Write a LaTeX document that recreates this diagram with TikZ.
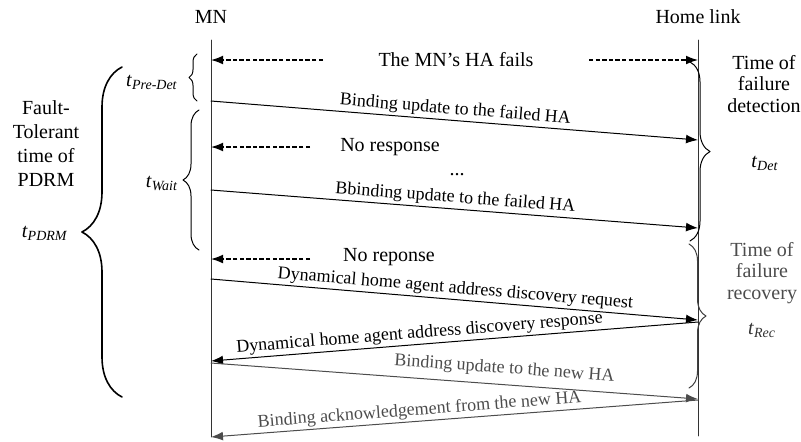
\documentclass[tikz,border=0pt]{standalone}
\usepackage{fontspec}
\setmainfont{Liberation Serif}
\usepackage{tikz}
\usetikzlibrary{positioning,arrows.meta,decorations.pathreplacing}

\newcommand{\tsub}[1]{\textit{t}\textsubscript{\textit{#1}}}

\begin{document}
\begin{tikzpicture}[x=0.5pt,y=-0.5pt, line cap=round, line join=round,
    msg/.style={-{Latex[length=6pt,width=4.4pt]}, line width=0.5pt},
    fail/.style={msg, line width=0.6pt, line cap=butt, dash pattern=on 2.2pt off 1.1pt},
    lbl/.style={font=\fontsize{9}{10}\selectfont, sloped, above, inner sep=1pt},
    brc/.style={decorate, decoration={brace, amplitude=#1}, line width=0.5pt},
    brc/.default=5pt,
    side/.style={align=center, font=\fontsize{10}{10.8}\selectfont}]
				% ===== khung =====
				\useasboundingbox (0,0) rectangle (801,441);
				
				% ===== hai truc doc =====
				\node (mn) at (211,17) {MN};
				\node (hl) at (698,17) {Home link};
				\coordinate (mnTop) at (211,40);
				\coordinate (mnBot) at (211,437);
				\coordinate (hlTop) at (698,40);
				\coordinate (hlBot) at (698,436);
				\draw[black!80] (mnTop) -- (mnBot);
				\draw[black!80] (hlTop) -- (hlBot);
				
				% ===== diem dau / cuoi cua cac thong diep =====
				\coordinate (mnA) at (211,101);  \coordinate (hlA) at (698,140);
				\coordinate (mnB) at (211,190);  \coordinate (hlB) at (698,228);
				\coordinate (mnC) at (211,279);  \coordinate (hlC) at (698,320);
				\coordinate (hlD) at (698,322);  \coordinate (mnD) at (211,361);
				\coordinate (mnE) at (211,363);  \coordinate (hlE) at (698,399);
				\coordinate (hlF) at (698,400);  \coordinate (mnF) at (211,437);
				
				% ===== mui ten dut (HA hong, khong tra loi) =====
				\node (fails) at (456,60) {The MN's HA fails};
				\coordinate (f0) at (323,60);  \coordinate (mn0) at (211,60);
				\coordinate (f1) at (589,60);  \coordinate (hl0) at (698,60);
				\draw[fail] (f0) -- (mn0);
				\draw[fail] (f1) -- (hl0);
				
				\node (nr1) at (390,147) {No response};
				\coordinate (n1) at (310,147);  \coordinate (mn1) at (211,147);
				\draw[fail] (n1) -- (mn1);
				
				\node (nr2) at (389,257) {No reponse};
				\coordinate (n2) at (310,259);  \coordinate (mn2) at (211,259);
				\draw[fail] (n2) -- (mn2);
				
				\node (dots) at (457,175) {...};
				
				% ===== cac thong diep =====
				\draw[msg] (mnA) -- node[lbl] (lA) {Binding update to the failed HA} (hlA);
				\draw[msg] (mnB) -- node[lbl] (lB) {Bbinding update to the failed HA} (hlB);
				\draw[msg] (mnC) -- node[lbl] (lC) {Dynamical home agent address discovery request} (hlC);
				\draw[msg] (hlD) -- node[lbl, pos=0.57] (lD) {Dynamical home agent address discovery response} (mnD);
				\draw[msg, black!70] (mnE) -- node[lbl, pos=0.6, above=2.5pt] (lE) {Binding update to the new HA} (hlE);
				\draw[msg, black!70] (hlF) -- node[lbl, pos=0.57] (lF) {Binding acknowledgement from the new HA} (mnF);
				
				% ===== ngoac ben trai =====
				\draw[brc=4pt] (197,101) -- (197,54);
				\node (tpre) at (152,82) {\tsub{Pre-Det}};
				
				\draw[brc=8pt] (199,250) -- (199,110);
				\node (twait) at (162,183) {\tsub{Wait}};
				
				\draw[brc=20pt, line width=0.8pt] (122,397) -- (122,67);
				\node[align=center] (ftt) at (46,144) {Fault-\\Tolerant\\time of\\PDRM};
				\node (tpdrm) at (45,233) {\tsub{PDRM}};
				
				% ===== ngoac ben phai =====
				\draw[brc=10pt] (690,62) -- (690,241);
				\node[side] (det) at (764,84) {Time of\\failure\\detection};
				\node (tdet) at (765,163) {\tsub{Det}};
				
				\draw[brc=8.5pt, black!75] (689,244) -- (689,388);
				\node[side, black!70] (rec) at (762,273) {Time of\\failure\\recovery};
				\node[black!80] (trec) at (762,330) {\tsub{Rec}};
			\end{tikzpicture}
\end{document}
